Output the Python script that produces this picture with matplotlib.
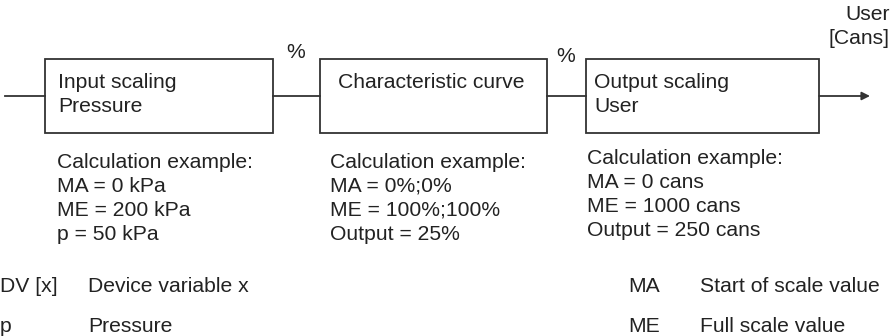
import matplotlib.pyplot as plt
from matplotlib.patches import Rectangle

plt.rcParams['font.family'] = ['Liberation Sans', 'DejaVu Sans']

# Blocks of the signal chain
block_titles = [["Input scaling", "Pressure"],
                ["Characteristic curve"],
                ["Output scaling", "User"]]
block_examples = [["Calculation example:", "MA = 0 kPa", "ME = 200 kPa", "p = 50 kPa"],
                  ["Calculation example:", "MA = 0%;0%", "ME = 100%;100%", "Output = 25%"],
                  ["Calculation example:", "MA = 0 cans", "ME = 1000 cans", "Output = 250 cans"]]
link_units = ["%", "%"]
output_label = ["User", "[Cans]"]

# Legend of abbreviations
abbr_left = ["DV [x]", "p"]
desc_left = ["Device variable x", "Pressure"]
abbr_right = ["MA", "ME"]
desc_right = ["Start of scale value", "Full scale value"]

box_x = [(45, 273), (320, 547), (586, 819)]
box_y = (59, 133)
title_x = [58, 338, 594]
ex_x = [57, 330, 587]
ex_y0 = [162, 162, 158]
line_col = '#333333'
txt_col = '#222222'
fs = 15.2

fig = plt.figure(figsize=(8.94, 3.36), dpi=100)
ax = fig.add_axes([0, 0, 1, 1])
ax.set_xlim(0, 894)
ax.set_ylim(336, 0)
ax.axis('off')

mid = (box_y[0] + box_y[1]) / 2
for i, (x0, x1) in enumerate(box_x):
    ax.add_patch(Rectangle((x0, box_y[0]), x1 - x0, box_y[1] - box_y[0],
                           fill=False, ec=line_col, lw=1.3))
    for j, t in enumerate(block_titles[i]):
        ax.text(title_x[i], 82 + 24 * j, t, fontsize=fs, color=txt_col, va='center')
    for j, t in enumerate(block_examples[i]):
        ax.text(ex_x[i], ex_y0[i] + 24 * j, t, fontsize=fs, color=txt_col, va='center')

# connecting lines
ax.plot([5, box_x[0][0]], [mid, mid], color=line_col, lw=1.3)
for k in range(2):
    ax.plot([box_x[k][1], box_x[k + 1][0]], [mid, mid], color=line_col, lw=1.3)
    ax.text((box_x[k][1] + box_x[k + 1][0]) / 2 - 1, 52 + 4 * k, link_units[k],
            fontsize=fs, color=txt_col, ha='center', va='center')
ax.annotate('', xy=(870, mid), xytext=(box_x[2][1], mid),
            arrowprops=dict(arrowstyle='-|>', color=line_col, lw=1.3,
                            mutation_scale=12, shrinkA=0, shrinkB=0))
for j, t in enumerate(output_label):
    ax.text(890, 14 + 24 * j, t, fontsize=fs, color=txt_col, ha='right', va='center')

for j in range(2):
    y = 286 + 40 * j
    ax.text(0, y, abbr_left[j], fontsize=fs, color=txt_col, va='center')
    ax.text(88, y, desc_left[j], fontsize=fs, color=txt_col, va='center')
    ax.text(628, y, abbr_right[j], fontsize=fs, color=txt_col, va='center')
    ax.text(700, y, desc_right[j], fontsize=fs, color=txt_col, va='center')

fig.savefig('out.png', dpi=100)
